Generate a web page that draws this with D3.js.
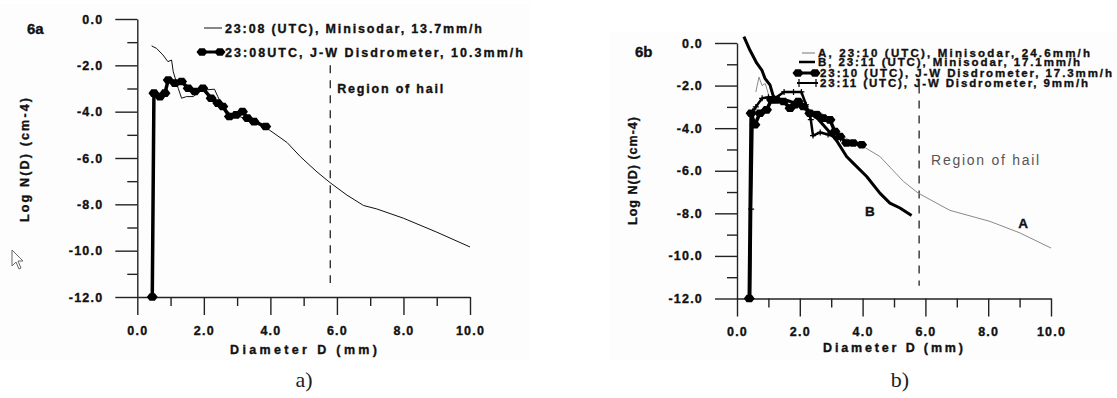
<!DOCTYPE html>
<html>
<head>
<meta charset="utf-8">
<script src="https://cdnjs.cloudflare.com/ajax/libs/d3/7.8.5/d3.min.js"></script>
<style>
body{margin:0;background:#fff;}
svg text{font-family:"Liberation Sans",Arial,sans-serif;font-weight:bold;fill:#111;stroke:#111;stroke-width:0.35px;}
</style>
</head>
<body>
<svg id="fig" width="1117" height="398"></svg>
<script>
// axis ticks
var xTicks = [0, 2, 4, 6, 8, 10];
var xMinor = [1, 3, 5, 7, 9];
var yTicks = [0, -2, -4, -6, -8, -10, -12];
var yMinor = [-1, -3, -5, -7, -9, -11];
var hailD = 5.8;
var hailSpan = [-2, -11.4];

// 6a : [diameter mm, log N(D)]
var sodar2308 = [[0.43,-1.16],[0.58,-1.27],[0.77,-1.55],[0.92,-1.84],[1.03,-1.77],[1.08,-2.27],[1.23,-2.99],[1.33,-3.42],
	[1.48,-3.35],[1.68,-3.35],[1.88,-3.13],[2.07,-3.06],[2.32,-3.03],[2.42,-3.35],[2.57,-3.78],[2.77,-4.06],[3.07,-4.21],
	[3.36,-4.35],[3.66,-4.57],[3.96,-4.78],[4.5,-5.33],[4.9,-5.94],[5.4,-6.6],[5.8,-7.07],[6.3,-7.6],[6.8,-8.05],
	[7.2,-8.2],[8.0,-8.6],[9.0,-9.2],[10.0,-9.84]];
var jw2308 = [[0.45,-12],[0.5,-3.2],[0.68,-3.35],[0.83,-3.2],[0.93,-2.63],[1.13,-2.77],[1.33,-2.7],[1.53,-2.99],
	[1.73,-3.13],[1.97,-2.99],[2.22,-3.42],[2.42,-3.63],[2.57,-3.78],[2.77,-4.21],[2.97,-4.14],[3.16,-4.0],
	[3.31,-4.28],[3.51,-4.43],[3.86,-4.64]];

// 6b
var sodarA2310 = [[0.6,-2.3],[0.7,-1.6],[0.8,-2.0],[0.9,-1.9],[1.0,-2.4],[1.1,-2.7],[1.3,-2.6],[1.5,-2.8],[1.7,-2.9],
	[1.9,-2.6],[2.0,-2.7],[2.2,-3.0],[2.4,-3.2],[2.6,-3.2],[2.8,-3.4],[3.0,-3.8],[3.2,-4.2],[3.5,-4.5],[3.8,-4.7],
	[4.02,-4.86],[4.55,-5.33],[5.3,-6.5],[5.77,-7.05],[6.78,-7.86],[8.06,-8.38],[9.01,-8.92],[10.0,-9.63]];
var sodarB2311 = [[0.22,0.3],[0.41,-0.33],[0.63,-0.95],[0.79,-1.27],[0.89,-1.66],[1.05,-1.97],[1.16,-2.52],[1.26,-2.67],
	[1.6,-2.7],[2.0,-2.9],[2.3,-3.2],[2.6,-3.6],[2.96,-4.2],[3.18,-4.6],[3.49,-5.33],[3.7,-5.64],[4.13,-6.27],
	[4.55,-7.05],[4.87,-7.52],[5.19,-7.75],[5.56,-8.1]];
var jw2310 = [[0.39,-12],[0.45,-3.3],[0.57,-3.84],[0.73,-3.3],[0.94,-3.14],[1.1,-2.67],[1.26,-2.67],[1.48,-2.75],
	[1.69,-3.06],[1.85,-2.9],[1.95,-2.75],[2.11,-2.98],[2.32,-3.3],[2.54,-3.37],[2.75,-3.53],[2.96,-3.61],[3.12,-4.16],
	[3.28,-4.39],[3.49,-4.7],[3.7,-4.7],[3.97,-4.78]];
var jw2311 = [[0.42,-12],[0.45,-7.8],[0.5,-3.2],[0.6,-3.0],[0.8,-2.6],[1.0,-2.55],[1.2,-2.6],[1.5,-2.3],[1.8,-2.3],
	[2.05,-2.3],[2.2,-2.9],[2.35,-3.6],[2.42,-4.35],[2.65,-4.2],[2.9,-4.3],[3.1,-4.4],[3.3,-4.5]];

var svg = d3.select("#fig");
var fmt = function(d){ return d.toFixed(1); };
var hexPath = "M-5.5,0L-2.6,-3.8L2.6,-3.8L5.5,0L2.6,3.8L-2.6,3.8Z";

function panel(box){
	var x = d3.scaleLinear().domain([0, 10]).range([box.x0, box.x1]);
	var y = d3.scaleLinear().domain([0, -12]).range([box.y0, box.y1]);
	var g = svg.append("g");

	g.append("g").attr("transform", "translate(" + box.x0 + ",0)")
		.call(d3.axisLeft(y).tickValues(yTicks).tickSize(22).tickPadding(12).tickSizeOuter(0).tickFormat(fmt));
	g.append("g").attr("transform", "translate(" + box.x0 + ",0)")
		.call(d3.axisLeft(y).tickValues(yMinor).tickSize(10).tickFormat(""))
		.select(".domain").remove();
	g.append("g").attr("transform", "translate(0," + y(-12) + ")")
		.call(d3.axisBottom(x).tickValues(xTicks).tickSize(18).tickPadding(11).tickSizeOuter(0).tickFormat(fmt));
	g.append("g").attr("transform", "translate(0," + y(-12) + ")")
		.call(d3.axisBottom(x).tickValues(xMinor).tickSize(9).tickFormat(""))
		.select(".domain").remove();
	g.selectAll(".domain, .tick line").attr("stroke", "#222").attr("stroke-width", 1.4);
	g.selectAll(".tick text").attr("font-size", 12.5).attr("font-family", null).attr("letter-spacing", 1.2);

	// hail boundary
	g.append("line").attr("x1", x(hailD)).attr("x2", x(hailD))
		.attr("y1", y(hailSpan[0])).attr("y2", y(hailSpan[1]))
		.attr("stroke", "#222").attr("stroke-width", 1.3).attr("stroke-dasharray", "8,7");

	return {g: g, x: x, y: y};
}

function drawLine(p, data, w, col){
	var line = d3.line().x(function(d){ return p.x(d[0]); }).y(function(d){ return p.y(d[1]); });
	return p.g.append("path").datum(data).attr("d", line)
		.attr("fill", "none").attr("stroke", col).attr("stroke-width", w)
		.attr("stroke-linejoin", "round");
}
function hexMarks(p, data){
	p.g.selectAll(null).data(data).enter().append("path")
		.attr("d", hexPath).attr("fill", "#000")
		.attr("transform", function(d){ return "translate(" + p.x(d[0]) + "," + p.y(d[1]) + ")"; });
}
function plusMarks(p, data){
	p.g.selectAll(null).data(data).enter().append("path")
		.attr("d", "M-3,0H3M0,-3V3").attr("stroke", "#000").attr("stroke-width", 1.2)
		.attr("transform", function(d){ return "translate(" + p.x(d[0]) + "," + p.y(d[1]) + ")"; });
}
function txt(x, y, s, size, len){
	var t = svg.append("text").attr("x", x).attr("y", y).attr("font-size", size).text(s);
	if(len) t.attr("textLength", len).attr("lengthAdjust", "spacing");
	return t;
}
function ytitle(cx, cy, len){
	svg.append("text").attr("transform", "translate(" + cx + "," + cy + ") rotate(-90)")
		.attr("text-anchor", "middle").attr("dy", "0.35em").attr("font-size", 12.5)
		.attr("textLength", len).attr("lengthAdjust", "spacing").text("Log N(D) (cm-4)");
}

// faint scanned background
svg.append("rect").attr("x", 0).attr("y", 4).attr("width", 530).attr("height", 356).attr("fill", "#fdfdfd");
svg.append("rect").attr("x", 610).attr("y", 32).attr("width", 507).attr("height", 328).attr("fill", "#fdfdfd");

// ---- panel a
var pa = panel({x0: 137.3, x1: 470, y0: 19, y1: 297});
drawLine(pa, sodar2308, 1, "#111");
drawLine(pa, jw2308, 3.5, "#000");
hexMarks(pa, jw2308);

txt(27, 34, "6a", 15);
ytitle(25, 160, 124);
txt(230, 354, "Diameter D (mm)", 12.5, 147);
txt(pa.x(hailD) + 7, pa.y(-3) + 4.5, "Region of hail", 12.5, 106);

svg.append("line").attr("x1", 204).attr("x2", 222).attr("y1", 28).attr("y2", 28).attr("stroke", "#111").attr("stroke-width", 1);
txt(225, 32.5, "23:08 (UTC), Minisodar, 13.7mm/h", 12.5, 257);
svg.append("line").attr("x1", 202).attr("x2", 220).attr("y1", 52).attr("y2", 52).attr("stroke", "#000").attr("stroke-width", 3);
svg.selectAll(null).data([202, 220]).enter().append("path").attr("d", hexPath).attr("fill", "#000")
	.attr("transform", function(d){ return "translate(" + d + ",52)"; });
txt(225, 56.5, "23:08UTC, J-W Disdrometer, 10.3mm/h", 12.5, 298);

// ---- panel b
var pb = panel({x0: 737, x1: 1051, y0: 43, y1: 298.5});
drawLine(pb, sodarA2310, 1, "#8a8a8a");
drawLine(pb, jw2311, 2.5, "#000");
plusMarks(pb, jw2311);
drawLine(pb, sodarB2311, 3, "#000");
drawLine(pb, jw2310, 3.5, "#000");
hexMarks(pb, jw2310);

txt(635, 57, "6b", 15);
ytitle(633, 171, 108);
txt(823, 352, "Diameter D (mm)", 12.5, 140);
txt(pb.x(hailD) + 12, pb.y(-5.5) + 5, "Region of hail", 14, 108)
	.style("font-weight", "normal").style("fill", "#555").style("stroke", "none");
txt(pb.x(4.27) - 6, pb.y(-7.9) + 5, "B", 13.5);
txt(pb.x(9.15) - 6, pb.y(-8.45) + 5, "A", 13.5);

// legend b (rows are packed tightly, as in the source)
svg.append("line").attr("x1", 802).attr("x2", 815).attr("y1", 53).attr("y2", 53).attr("stroke", "#8a8a8a").attr("stroke-width", 1.2);
txt(818, 57, "A, 23:10 (UTC), Minisodar, 24.6mm/h", 11.5, 272);
svg.append("line").attr("x1", 799).attr("x2", 815).attr("y1", 62).attr("y2", 62).attr("stroke", "#000").attr("stroke-width", 2.5);
txt(818, 66, "B, 23:11 (UTC), Minisodar, 17.1mm/h", 11.5, 262);
svg.append("line").attr("x1", 798).attr("x2", 815).attr("y1", 73).attr("y2", 73).attr("stroke", "#000").attr("stroke-width", 3);
svg.selectAll(null).data([798, 815]).enter().append("path").attr("d", hexPath).attr("fill", "#000")
	.attr("transform", function(d){ return "translate(" + d + ",73)"; });
txt(820, 77, "23:10 (UTC), J-W Disdrometer, 17.3mm/h", 11.5, 292);
svg.append("line").attr("x1", 797).attr("x2", 818).attr("y1", 83).attr("y2", 83).attr("stroke", "#000").attr("stroke-width", 2);
svg.selectAll(null).data([799, 816]).enter().append("path").attr("d", "M0,-4V4").attr("stroke", "#000").attr("stroke-width", 1.2)
	.attr("transform", function(d){ return "translate(" + d + ",83)"; });
txt(820, 87, "23:11 (UTC), J-W Disdrometer, 9mm/h", 11.5, 268);

// captions
svg.selectAll(null).data([["a)", 304], ["b)", 900]]).enter().append("text")
	.attr("x", function(d){ return d[1]; }).attr("y", 387).attr("text-anchor", "middle")
	.attr("font-size", 22).style("font-family", "'Liberation Serif','Times New Roman',serif")
	.style("font-weight", "normal").style("stroke", "none").style("fill", "#222")
	.text(function(d){ return d[0]; });

// mouse pointer left in the scan
svg.append("path").attr("d", "M12,250L12,266L16,262L19,269L21,268L18,261L23,261Z")
	.attr("fill", "#fff").attr("stroke", "#666").attr("stroke-width", 1);
</script>
</body>
</html>
